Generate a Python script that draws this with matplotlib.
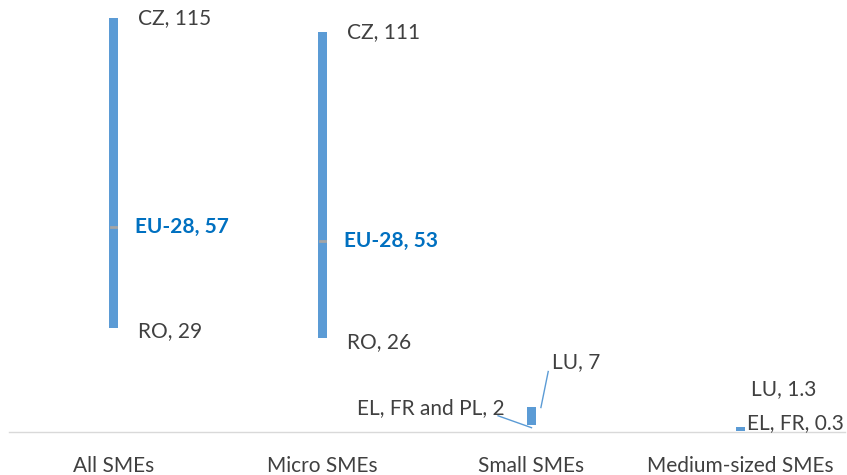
import matplotlib.pyplot as plt

plt.rcParams['font.family'] = ['Lato', 'DejaVu Sans']

categories = ['All SMEs', 'Micro SMEs', 'Small SMEs', 'Medium-sized SMEs']
low_vals = [29, 26, 2, 0.3]
high_vals = [115, 111, 7, 1.3]
eu_vals = [57, 53, None, None]
low_labels = ['RO, 29', 'RO, 26', 'EL, FR and PL, 2', 'EL, FR, 0.3']
high_labels = ['CZ, 115', 'CZ, 111', 'LU, 7', 'LU, 1.3']

bar_color = '#5B9BD5'
text_color = '#404040'

fig = plt.figure(figsize=(8.47, 4.75), dpi=100)
ax = fig.add_axes([9 / 847, 43 / 475, 836 / 847, 432 / 475])

x = range(len(categories))
ax.bar(x, [h - l for h, l in zip(high_vals, low_vals)], bottom=low_vals,
       width=0.04, color=bar_color, zorder=2)

fs = 15
for i, v in enumerate(eu_vals):
    if v is not None:
        ax.plot([i - 0.01, i + 0.01], [v, v], color='#A5A5A5', lw=2, zorder=3)
        ax.text(i + 0.105, v, f'EU-28, {v}', color='#0070C0', fontsize=fs,
                fontweight='bold', va='center', ha='left')

# big bars: labels to the right
for i in range(2):
    ax.text(i + 0.115, high_vals[i], high_labels[i], color=text_color,
            fontsize=fs, va='center', ha='left')
    ax.text(i + 0.115, low_vals[i] - 1, low_labels[i], color=text_color,
            fontsize=fs, va='center', ha='left')

# small SMEs with leader lines
ax.text(2.10, 19.5, high_labels[2], color=text_color, fontsize=fs,
        va='center', ha='left')
ax.plot([2.08, 2.045], [16.8, 6.8], color=bar_color, lw=1)
ax.text(1.87, 6.6, low_labels[2], color=text_color, fontsize=fs,
        va='center', ha='right')
ax.plot([1.84, 2.0], [4.5, 1.2], color=bar_color, lw=1)

# medium-sized
ax.text(3.05, 12, high_labels[3], color=text_color, fontsize=fs,
        va='center', ha='left')
ax.text(3.03, 2.6, low_labels[3], color=text_color, fontsize=fs,
        va='center', ha='left')

ax.set_xlim(-0.5, 3.5)
ax.set_ylim(0, 120)
ax.set_xticks(list(x))
ax.set_xticklabels(categories, fontsize=15, color=text_color)
ax.tick_params(axis='x', length=0, pad=17)
ax.set_yticks([])
for s in ['top', 'right', 'left']:
    ax.spines[s].set_visible(False)
ax.spines['bottom'].set_color('#D9D9D9')
ax.spines['bottom'].set_linewidth(1)

fig.savefig('out.png', dpi=100)
